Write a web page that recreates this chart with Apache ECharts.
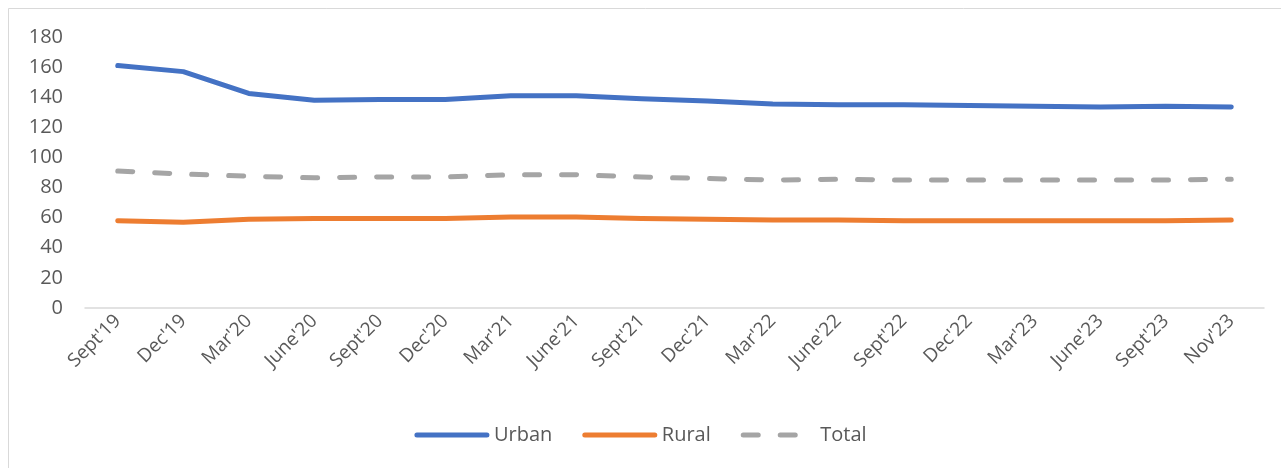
<!DOCTYPE html>
<html>
<head>
<meta charset="utf-8">
<script src="https://cdn.jsdelivr.net/npm/echarts@6/dist/echarts.min.js"></script>
<style>
  html, body { margin: 0; padding: 0; background: #fff; }
  #chart { width: 1281px; height: 468px; }
</style>
</head>
<body>
<div id="chart"></div>
<script>
// Quarterly periods shown on the category axis
const periods = ["Sept'19", "Dec'19", "Mar'20", "June'20", "Sept'20", "Dec'20",
  "Mar'21", "June'21", "Sept'21", "Dec'21", "Mar'22", "June'22",
  "Sept'22", "Dec'22", "Mar'23", "June'23", "Sept'23", "Nov'23"];

// Series values
const urban = [161, 157, 142.5, 138, 138.5, 138.5, 141, 141, 139, 137.5, 135.5, 135, 135, 134.5, 134, 133.5, 134, 133.5];
const rural = [58, 57, 59, 59.5, 59.5, 59.5, 60.5, 60.5, 59.5, 59, 58.5, 58.5, 58, 58, 58, 58, 58, 58.5];
const total = [91, 89, 87.5, 86.5, 87, 87, 88.5, 88.5, 87, 86, 85, 85.5, 85, 85, 85, 85, 85, 85.5];

// Value-axis range
const yMin = 0, yMax = 180, yStep = 20;

const textColor = '#595959';
const fontFamily = '"Open Sans", "Liberation Sans", sans-serif';

const chart = echarts.init(document.getElementById('chart'), null, { renderer: 'canvas' });

function lineSeries(name, data, color, dashed) {
  return {
    name: name,
    type: 'line',
    data: data,
    symbol: 'none',
    smooth: false,
    lineStyle: {
      color: color,
      width: 5,
      cap: 'round',
      join: 'round',
      type: dashed ? [15, 22] : 'solid'
    },
    itemStyle: { color: color },
    emphasis: { disabled: true }
  };
}

chart.setOption({
  animation: false,
  backgroundColor: '#ffffff',
  textStyle: { fontFamily: fontFamily },
  graphic: [{
    type: 'rect',
    shape: { x: 8.5, y: 8.5, width: 1300, height: 500 },
    style: { fill: 'none', stroke: '#d9d9d9', lineWidth: 1 },
    silent: true,
    z: -1
  }],
  grid: { left: 85, right: 17, top: 37, bottom: 160, containLabel: false },
  xAxis: {
    type: 'category',
    data: periods,
    boundaryGap: true,
    axisLine: { show: true, lineStyle: { color: '#d9d9d9', width: 1.5 } },
    axisTick: { show: false },
    axisLabel: {
      color: textColor,
      fontSize: 19,
      fontFamily: fontFamily,
      rotate: 45,
      interval: 0,
      margin: 10
    },
    splitLine: { show: false }
  },
  yAxis: {
    type: 'value',
    min: yMin,
    max: yMax,
    interval: yStep,
    axisLine: { show: false },
    axisTick: { show: false },
    splitLine: { show: false },
    axisLabel: {
      color: textColor,
      fontSize: 20,
      fontFamily: fontFamily,
      margin: 22
    }
  },
  legend: {
    data: ['Urban', 'Rural', 'Total'],
    bottom: 18,
    left: 'center',
    itemWidth: 70,
    itemHeight: 10,
    itemGap: 30,
    itemStyle: { opacity: 0 },
    lineStyle: { width: 5, cap: 'round' },
    textStyle: { color: textColor, fontSize: 20, fontFamily: fontFamily, padding: [0, 0, 0, 2] }
  },
  series: [
    lineSeries('Urban', urban, '#4472C4', false),
    lineSeries('Rural', rural, '#ED7D31', false),
    lineSeries('Total', total, '#A5A5A5', true)
  ]
});
</script>
</body>
</html>
